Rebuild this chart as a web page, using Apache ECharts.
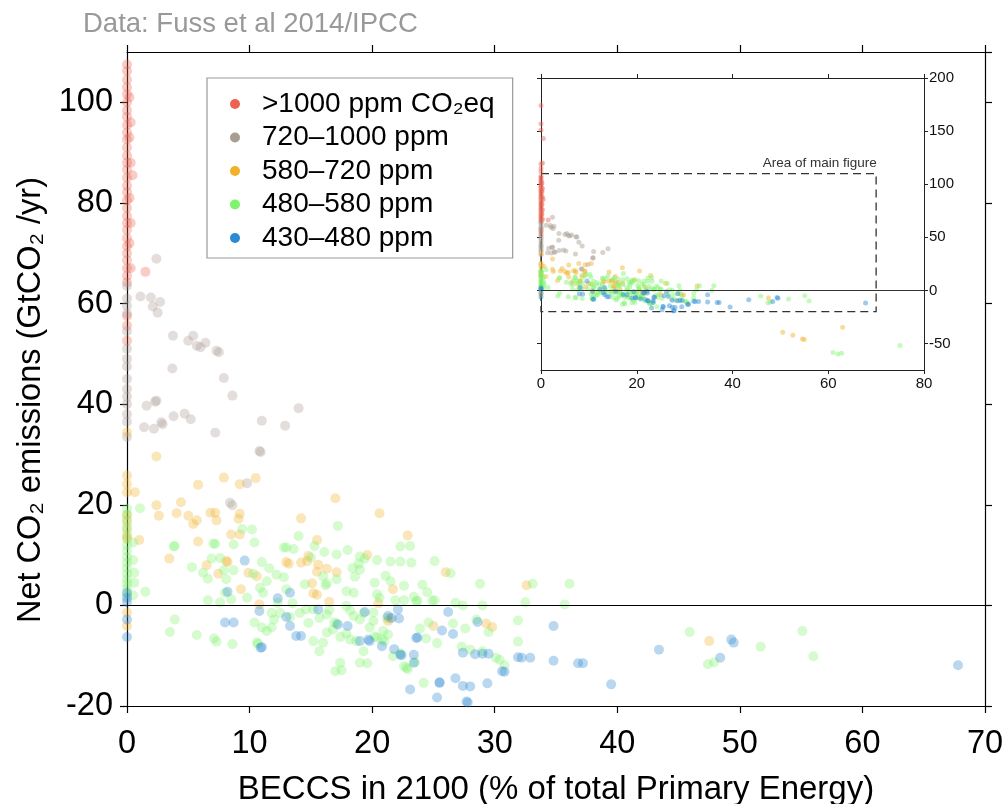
<!DOCTYPE html>
<html>
<head>
<meta charset="utf-8">
<title>BECCS vs net CO2 emissions</title>
<script src="https://cdn.jsdelivr.net/npm/echarts@6/dist/echarts.min.js"></script>
<style>
  html, body { margin: 0; padding: 0; background: #fff; }
  #chart { width: 1004px; height: 804px; }
</style>
</head>
<body>
<div id="chart"></div>
<script>
// scenario points [BECCS % of primary energy, net CO2 GtCO2/yr]
const ppm1000 = [
  [0,107.5],[0,106.2],[0,104.5],[0,103],[0,101.6],[0,100],[0,98.4],[0,97.1],[0,95.5],[0,94],[0,92.6],[0,91],
  [0,89.4],[0,88],[0,86.6],[0,85],[0,83.4],[0,82.1],[0,80.5],[0,79],[0,77.4],[0,76],[0,74.6],[0,73],[0,71.4],
  [0,70],[0,68.6],[0,67],[0,65.5],[0,64.2],[0,57.5],[0,55.6],[0,52.6],
  [0.2,101],[0.3,96],[0.2,93],[0.3,88],[0.45,85.5],[0.2,81],[0.3,76],[0.2,72],[0.3,67],[1.5,66.3],
  [0,112],[0,115],[0,119],[0.3,120],[0.5,143],[0,151],[0,157],[0,174]
];
const ppm720 = [
  [0,63.5],[0,61],[0,59.5],[0,58],[0,54.5],[0,51],[0,49],[0,47.5],[0,45],[0,43],[0,41.5],[0,40],[0,38],[0,36.5],[0,33.5],
  [2.4,68.9],[1.1,61.4],[1.95,61.2],[2.1,59.4],[2.7,60.3],[2.5,58.2],[3.75,53.6],[5.0,52.6],[5.4,53.6],[5.7,51.6],
  [6.0,51.3],[6.4,52.2],[7.3,50.6],[7.5,50.3],[3.7,47.1],[7.9,45.2],[8.6,41.7],
  [1.6,39.7],[2.3,40.5],[2.4,40.7],[2.8,36.4],[2.9,36.0],[1.4,35.4],[2.2,35.1],[3.8,37.6],[4.7,38.1],[5.2,37.0],
  [7.2,34.3],[11.0,36.7],[10.8,30.7],[10.9,30.5],[12.9,35.7],[14.0,39.2],[9.8,24.3],[8.4,20.4],[8.6,19.9]
];
const ppm580 = [
  [0,34.4],[2.4,29.6],[0,25.8],[0,24.1],[0,22.5],[0.65,22.5],[7.9,25.4],[5.8,24.0],[9.2,24.1],[10.5,25.3],
  [2.4,19.9],[2.6,17.8],[4.4,20.5],[4.05,18.3],[5.0,17.8],[5.4,16.2],[5.7,16.9],[6.8,18.4],[7.2,18.4],[7.3,16.9],
  [9.2,18.2],[9.1,17.2],[8.5,14.1],[9.2,14.1],[0,18],[0,17],[0,15.5],[0,14],[0,13.2],[1.0,13],[5.8,12.7],[3.45,9.3],
  [17,21.3],[14.2,17.3],[15.5,13],[20.6,18.3],[22.9,13.9],[8.1,8.8],[8.2,8.6],[6.5,8.0],[7.45,6.3],[9.9,6.5],
  [10.6,5.8],[13.0,8.6],[13.2,8.3],[14.2,8.5],[14.7,8.8],[14.8,9.8],[15.5,6.7],[15.6,8.1],[16.3,7.3],[17.1,6.6],
  [15.1,4.4],[15.2,2.4],[15.5,2.1],[9.3,3.2],[10.8,0.2],[16.5,0.7],[19.6,10],[21.7,3.2],[20.5,0.4],[21.3,-3.1],
  [21.4,-2.6],[0,-1.4],[0,-4.1],[26,6.6],[32.6,4.0],[25,-4.1],[29.3,-3.6],[29.8,-4.3],[47.5,-7.1],
  [50.5,-39.4],[52.6,-42.2],[54.6,-45.7],[55,-46.3],[63,-34.7]
];
const ppm480 = [
  [0,19.2],[0,18],[0,16.5],[0,15],[0,13.5],[0,12],[0,10.8],[0,9.6],[0,8.5],[0,7.4],[0,6.3],[0,5.2],[0,4.3],[0,3.4],
  [0,2.2],[0.5,12.5],[0.5,9],[0.6,6.5],[0.6,4.5],[0.5,2],
  [1.06,19.3],[1.5,2.7],[3.8,11.7],[3.9,11.8],[5.3,7.6],[6.2,6.5],[6.6,5.3],[7.05,12.3],[7.2,12.2],[7.6,9.4],
  [8.1,5.2],[8.7,12.1],[8.7,7],[9.4,15.2],[10.2,15.1],[10.4,12.5],[11,8.6],[11.6,7.4],[6.6,1.0],[7.6,0.6],[8.5,1.2],
  [10.85,3.5],[11.1,2.5],[11.4,4.8],[12.2,6.1],[12.8,11.5],[13.0,11.5],[13.6,11.2],[14.0,13.8],[15.3,11.8],
  [17.1,10.1],[17.2,15.8],[17.1,5.2],[16.3,4.4],[16.2,4],[19,9.7],[19,7.1],[18.6,5.7],[19.4,9.3],[20.4,9],
  [21.5,8.7],[22.3,8.7],[23.2,8.5],[22.3,11.7],[23.1,11.8],[20.2,4.5],[21.5,4.8],[20.4,2.2],[18.5,2.5],[17.9,2.8],
  [21.9,1.0],[22.6,1.0],[23.6,0.8],[3.9,-2.8],[3.5,-5.3],[5.7,-5.9],[7.1,-6.6],[7.3,-7.2],[8.6,-7.7],[10.4,-3.4],
  [11,-4.4],[11.4,-5.1],[11.8,-4.4],[10.6,-7.4],[10.7,-7.6],[11.8,-1.5],[12.5,-1.5],[13.3,-2.3],[14.1,-1.5],
  [14.6,-0.8],[15.2,-0.8],[15.7,-2.5],[16.3,-1.8],[15.7,-9.1],[15.2,-7.1],[16,-7.4],[16.8,-4.8],[17.1,-3.6],
  [17.4,-6.3],[17.9,-5.6],[17,-13.1],[17.5,-12.9],[17.4,-11.4],[19,-11.4],[19.6,-11.5],[18.5,-2.1],[19,-2.8],
  [19.8,-4.4],[20.1,-3.1],[20.9,-5.1],[20.4,-6.4],[18.7,-7.1],[18.2,-6.8],[19.3,-9.1],[22.6,-12.1],[22.9,-12.7],
  [21.7,-10.1],[13,3.2],[14.5,4.2],[16.0,5.8],[18.4,7.4],[18.9,8.3],[21.1,5.9],[17.9,-0.1],[18.2,-1.0],[16.5,-0.9],
  [16.9,-3.4],[19.3,-1.5],[20.1,-1.4],[20.2,-6.2],[21.0,-7.1],[21.2,-2.5],[20.6,1.5],[9.8,1.5],[8.0,2.5],[12.3,0.5],
  [13.5,0.4],[14.8,-3.5],[16.3,-5.4],[12.0,-2.8],[6.9,9.3],[7.9,7.0],[10.3,6.3],[12.8,5.6],[15.0,9.5],[16.1,10.6],
  [18.0,11.0],[22.6,3.9],[23.4,1.7],[21.3,-5.8],[20.8,-6.8],
  [25.1,8.8],[26.4,6.4],[28.8,4.3],[33.1,4.3],[36.1,4.3],[24.1,4.1],[24.5,2.6],[24.9,0.9],[25.1,1.0],[23.7,0.9],
  [26.8,0.5],[27.4,0],[29,0],[32.5,0.6],[35.7,0.2],[26.6,-3.6],[27.6,-4.6],[24.6,-3.4],[25.3,-7.5],[23.9,-4.6],
  [24.4,-6.6],[28.5,-2.8],[29.5,-5.3],[31.9,-3.0],[31.9,-7.2],[27.3,-8.2],[28,-8.8],[29,-9.1],[30.1,-10.4],
  [30.4,-10.8],[30.8,-11.9],[24.2,-15.4],[22.3,-9.5],[22.8,-12.4],[23.5,-11.3],[45.9,-5.3],[47.4,-11.7],
  [47.9,-11.3],[51.7,-8.2],[55.1,-5.1],[56,-10.1],
  [61,-58.6],[62,-59.9],[62.8,-59.3],[75,-52]
];
const ppm430 = [
  [0,2.5],[0,1.5],[0,0.7],[0,-2.8],[0,-6.3],[9.6,8.9],[8.2,2.7],[8,-3.4],[8.7,-3.4],[10.8,-1.1],[10.9,-8.4],
  [11.0,-8.3],[12.3,1.4],[13.3,2.5],[13,-2.3],[13.3,-4.1],[13.8,-6.1],[14.2,-6.1],[15.6,-0.8],[17.2,-3.8],
  [18.0,-4.1],[19.4,-1.3],[19,-7.1],[19.7,-6.8],[19.8,-7.1],[20.8,-8.1],[21.3,-2.1],[21.6,-2.5],[22.2,-2.6],
  [22.1,-0.8],[21.8,-8.7],[22.3,-9.8],[22.4,-9.9],[23.4,-11.4],[23.4,-9.8],[23.6,-6.5],[23.1,-16.7],
  [26.2,-1.3],[28.6,-3.3],[34.8,-4.1],[25.7,-5],[26.6,-5.7],[23.7,-6.4],[27.4,-9.4],[28.4,-9.7],[29,-9.6],
  [29.5,-9.6],[30.6,-13.1],[30.8,-13.2],[31.9,-10.3],[32.2,-10.4],[32.9,-10.4],[34.8,-11],[36.8,-11.5],
  [37.2,-11.5],[39.5,-15.7],[25.5,-15.4],[25.5,-15.3],[26.8,-14.5],[27.4,-16],[28,-16.1],[27.7,-19.1],
  [27.8,-19.3],[25.3,-18.3],[29.4,-15.5],[43.4,-8.8],[49.3,-6.8],[49.5,-7.4],[48.4,-10.4],[67.8,-11.9]
];

const groupNames = ['>1000 ppm CO₂eq', '720–1000 ppm', '580–720 ppm', '480–580 ppm', '430–480 ppm'];
const groupColors = ['#EC6352', '#A99C91', '#F0B229', '#7EF46C', '#2A8AD2'];
const groupData = [ppm1000, ppm720, ppm580, ppm480, ppm430];

const mainTicksX = { min: 0, max: 70, interval: 10 };
const mainTicksY = { min: -20, max: 110, interval: 20 };
const insetTicksY = [-50, 0, 50, 100, 150, 200];
const mainFrame = [[0, 110], [70, -20]]; // dashed box drawn in the inset

const font = 'Liberation Sans, Arial, Helvetica, sans-serif';
const black = '#000';

const chart = echarts.init(document.getElementById('chart'), null, { renderer: 'canvas' });

const frameAxis = (extra) => Object.assign({
  type: 'value',
  splitLine: { show: false },
  axisLine: { show: true, onZero: false, lineStyle: { color: black, width: 1.2 } },
  axisTick: { show: true, inside: false, length: 7, lineStyle: { color: black, width: 1.2 } },
  axisLabel: { show: false }
}, extra);

const insetAxis = (extra) => Object.assign({
  type: 'value',
  gridIndex: 1,
  splitLine: { show: false },
  axisLine: { show: true, onZero: false, lineStyle: { color: '#222', width: 1 } },
  axisTick: { show: true, inside: false, length: 4, lineStyle: { color: '#222', width: 1 } },
  axisLabel: { show: false }
}, extra);

const series = [];
groupData.forEach((data, i) => {
  series.push({
    type: 'scatter',
    name: groupNames[i],
    xAxisIndex: 0,
    yAxisIndex: 0,
    data: data,
    symbolSize: 10,
    itemStyle: { color: groupColors[i], opacity: 0.33 },
    silent: true
  });
});
groupData.forEach((data, i) => {
  series.push({
    type: 'scatter',
    name: groupNames[i],
    xAxisIndex: 2,
    yAxisIndex: 2,
    data: data,
    symbolSize: 5,
    itemStyle: { color: groupColors[i], opacity: 0.45 },
    silent: true
  });
});

// zero lines and the "area of main figure" box
series[0].markLine = {
  silent: true, symbol: ['none', 'none'], label: { show: false },
  lineStyle: { color: black, width: 1.2, type: 'solid' },
  data: [{ yAxis: 0 }]
};
series[5].markLine = {
  silent: true, symbol: ['none', 'none'], label: { show: false },
  lineStyle: { color: '#333', width: 1.2, type: 'solid' },
  data: [{ yAxis: 0 }]
};
series[5].markArea = {
  silent: true,
  itemStyle: { color: 'rgba(0,0,0,0)', borderColor: '#333', borderWidth: 1.3, borderType: [8, 5] },
  label: {
    show: true, position: ['100%', -3], align: 'right', verticalAlign: 'bottom',
    formatter: 'Area of main figure', fontSize: 13.5, color: '#333', fontFamily: font
  },
  data: [[{ coord: mainFrame[0] }, { coord: mainFrame[1] }]]
};

chart.setOption({
  animation: false,
  backgroundColor: '#fff',
  textStyle: { fontFamily: font },
  title: {
    text: 'Data: Fuss et al 2014/IPCC',
    left: 78, top: 5,
    textStyle: { color: '#999', fontSize: 27.5, fontWeight: 'normal', fontFamily: font }
  },
  legend: {
    orient: 'vertical',
    left: 207, top: 78,
    data: groupNames,
    icon: 'circle',
    itemWidth: 44, itemHeight: 10,
    itemGap: 5.5,
    padding: [12, 18, 6, 23],
    borderColor: '#999', borderWidth: 1.2,
    backgroundColor: '#fff',
    itemStyle: { opacity: 1 },
    textStyle: { fontSize: 28, color: black, fontFamily: font },
    selectedMode: false
  },
  grid: [
    { left: 127, right: 19, top: 52, bottom: 98, outerBoundsMode: 'none' },
    { left: 541, right: 80, top: 78, bottom: 434, outerBoundsMode: 'none', show: true, backgroundColor: '#fff', borderWidth: 0 }
  ],
  xAxis: [
    frameAxis(Object.assign({
      gridIndex: 0, position: 'bottom',
      name: 'BECCS in 2100 (% of total Primary Energy)',
      nameLocation: 'middle', nameGap: 67,
      nameTextStyle: { fontSize: 33, color: black, fontFamily: font },
      axisLabel: { show: true, fontSize: 32.5, color: black, margin: 22, fontFamily: font }
    }, mainTicksX)),
    frameAxis(Object.assign({ gridIndex: 0, position: 'top' }, mainTicksX)),
    insetAxis({
      position: 'bottom', min: 0, max: 80, interval: 20,
      axisLabel: { show: true, fontSize: 15, color: '#111', margin: 6, fontFamily: font }
    }),
    insetAxis({ position: 'top', min: 0, max: 80, interval: 20 })
  ],
  yAxis: [
    frameAxis(Object.assign({
      gridIndex: 0, position: 'left',
      name: 'Net CO₂ emissions (GtCO₂ /yr)',
      nameLocation: 'middle', nameGap: 72,
      nameTextStyle: { fontSize: 32.5, color: black, fontFamily: font, padding: [0, 42, 0, 0] },
      axisLabel: { show: true, fontSize: 32.5, color: black, margin: 14, showMaxLabel: false, fontFamily: font }
    }, mainTicksY)),
    frameAxis(Object.assign({ gridIndex: 0, position: 'right' }, mainTicksY)),
    insetAxis({
      position: 'right', min: -75, max: 200,
      axisTick: { show: true, inside: false, length: 4, customValues: insetTicksY, lineStyle: { color: '#222' } },
      axisLabel: { show: true, fontSize: 15, color: '#111', margin: 5, customValues: insetTicksY, fontFamily: font }
    }),
    insetAxis({
      position: 'left', min: -75, max: 200,
      axisTick: { show: true, inside: false, length: 4, customValues: insetTicksY, lineStyle: { color: '#222' } }
    })
  ],
  series: series
});
</script>
</body>
</html>
